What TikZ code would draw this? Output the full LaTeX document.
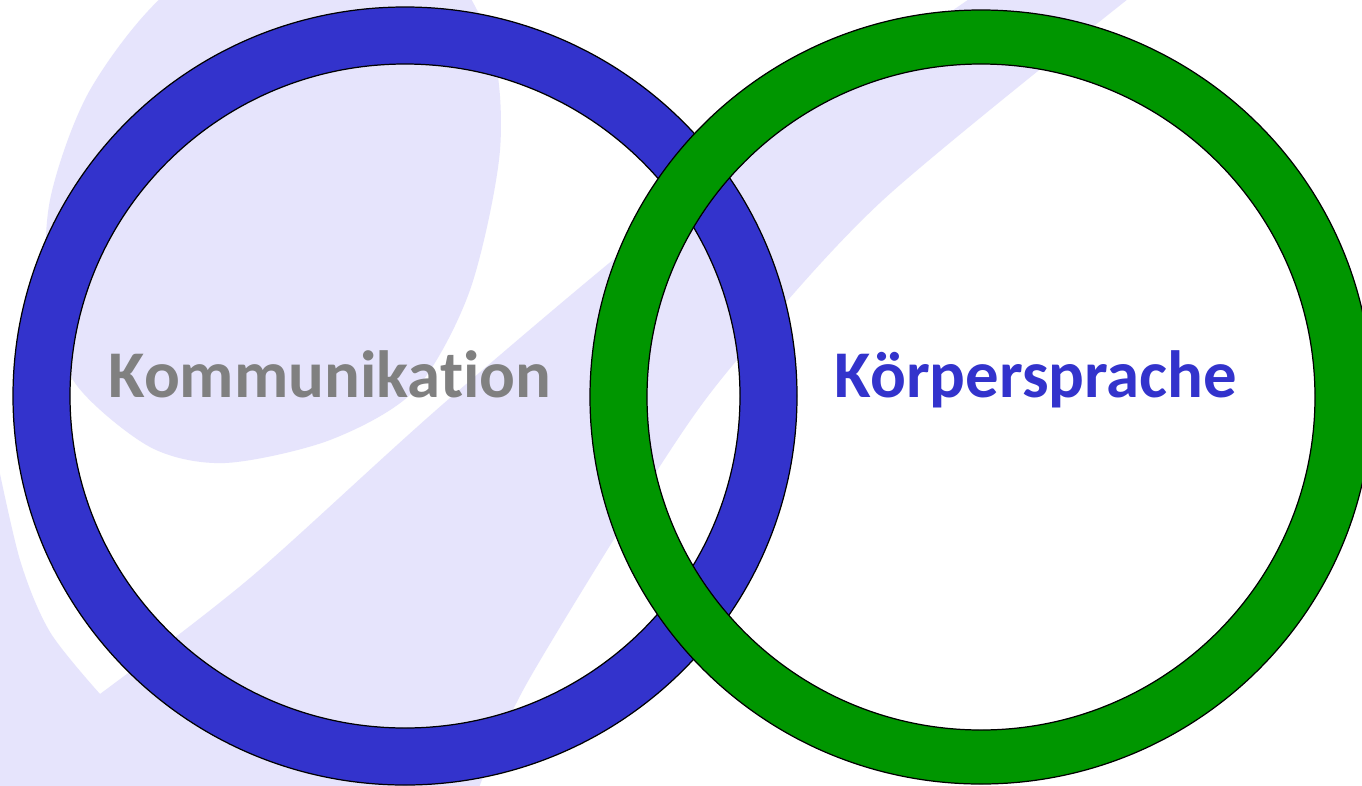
\documentclass[tikz,border=0pt]{standalone}
\usepackage{fontspec}
\usepackage{tikz}
\usetikzlibrary{positioning}
\newfontfamily\labelfont{Carlito}[Ligatures={NoCommon}]
\definecolor{ringblue}{RGB}{51,51,204}
\definecolor{ringgreen}{RGB}{0,150,0}
\definecolor{lavender}{RGB}{230,228,252}
\definecolor{labelgray}{RGB}{128,128,128}

\begin{document}
\begin{tikzpicture}[
        x=0.02cm, y=-0.02cm,
        ring/.style={draw=black, line width=0.7pt, even odd rule},
        every node/.style={font=\labelfont\bfseries\fontsize{38}{45}\selectfont, inner sep=0pt, anchor=base}
    ]
    \useasboundingbox (0,0) rectangle (1362,785);

    % Background
    \begin{scope}
    \clip (0,0) rectangle (1362,785);
    \fill[white] (0,0) rectangle (1362,785);
    \fill[lavender] plot[smooth] coordinates {(-5,450) (20,560) (50,632) (100,694)}
        -- plot[smooth] coordinates {(100,694) (250,578) (450,398) (700,190) (975,-5)}
        -- plot[smooth] coordinates {(1133,-5) (883,200) (737,360) (662,463) (527,683) (478,790)}
        -- (-5,790) -- cycle;
    \fill[lavender] plot[smooth cycle] coordinates {(300,-80) (170,-10) (90,90) (50,200) (48,300)
        (75,383) (150,447) (225,463) (330,440) (415,390) (470,290) (500,150) (490,40) (430,-50)};
    \end{scope}

    % Rings
    \coordinate (bluemid) at (405,396);
    \coordinate (greenmid) at (981,397);
    \path[ring, fill=ringblue] (bluemid) ellipse (392 and 389) (bluemid) ellipse (335 and 332);
    \path[ring, fill=ringgreen] (greenmid) ellipse (391 and 387) (greenmid) ellipse (334 and 333);

    % Nodes
    \node[text=labelgray] (komm) at (330,397) {Kommunikation};
    \node[text=ringblue] (koerper) at (1036,397) {Körpersprache};

\end{tikzpicture}
\end{document}
